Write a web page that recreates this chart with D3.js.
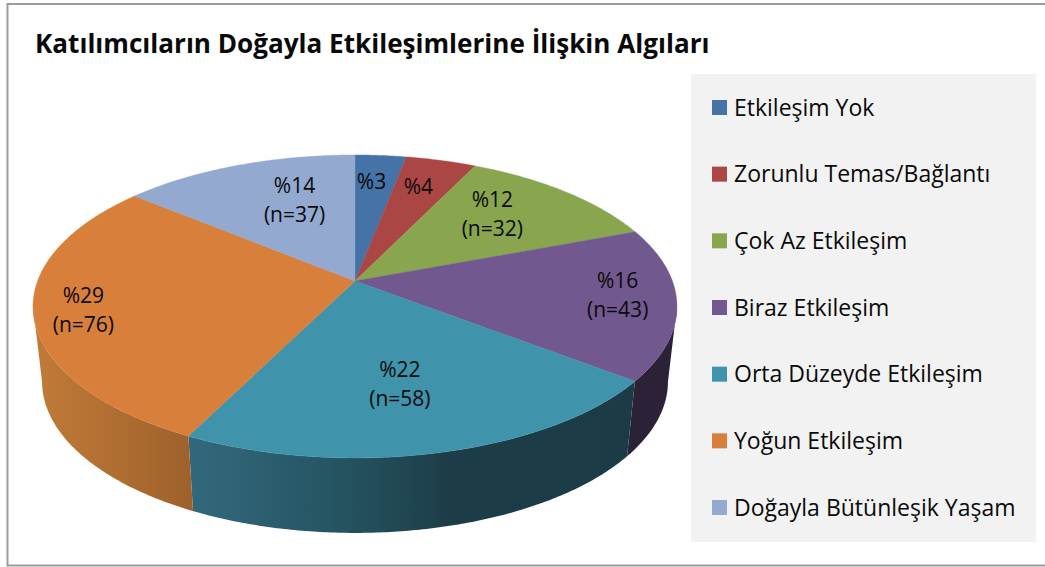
<!DOCTYPE html>
<html>
<head>
<meta charset="utf-8">
<script src="https://cdn.jsdelivr.net/npm/d3@7"></script>
<style>
  html, body { margin: 0; background: #fff; }
  svg { display: block; }
  text { font-family: "Open Sans", Lato, sans-serif; fill: #0a0a0a; }
  .title { font-size: 26.1px; font-weight: 700; }
  .legend-label { font-size: 23px; }
  .slice-label { font-size: 21px; text-anchor: middle; }
</style>
</head>
<body>
<svg id="chart" width="1045" height="567"></svg>
<script>
// Chart data
const categories = ['Etkileşim Yok', 'Zorunlu Temas/Bağlantı', 'Çok Az Etkileşim', 'Biraz Etkileşim',
  'Orta Düzeyde Etkileşim', 'Yoğun Etkileşim', 'Doğayla Bütünleşik Yaşam']
const counts = [8, 11, 32, 43, 58, 76, 37]
const percents = [3, 4, 12, 16, 22, 29, 14]
const showCount = [false, false, true, true, true, true, true]
const colors = ['#4573a7', '#aa4643', '#89a54e', '#71588f', '#3f94ac', '#d87f3b', '#93a9cf']

// Side wall shading, left to right in screen space
const wallStops = {
  3: ['#2c2238', '#2c2238'],
  4: ['#33697d', '#24525f', '#1c3c47', '#1b3b46'],
  5: ['#c17b38', '#9e612b']
}

// Best fit label placement: radius share and angle nudge in degrees
const labelRadius = [0.76, 0.75, 0.68, 0.82, 0.64, 0.85, 0.64]
const labelTurn = [-1, -1, -4, -2, 1.5, -1, 6]

const svg = d3.select('#chart')
const defs = svg.append('defs')

// Perspective of the tilted disc
const apex = { x: 355, y: 281 }
const spanX = 317.4
const spanY = 147.2
const depth = 0.168
const wallDrop = 75
const wallShrink = 0.972
const silhouette = Math.acos(-depth)

// Project a point on the disc (angle clockwise from top, r share of radius)
const project = (angle, r = 1) => {
  let u = r * Math.sin(angle)
  let v = r * Math.cos(angle)
  let w = 1 + depth * v
  return [apex.x + spanX * u / w, apex.y - spanY * v / w]
}

const lowerRim = (angle) => {
  let p = project(angle)
  return [apex.x + (p[0] - apex.x) * wallShrink, p[1] + wallDrop]
}

const arcSamples = (a0, a1) => {
  let n = Math.max(2, Math.ceil(Math.abs(a1 - a0) / 0.01))
  return d3.range(n + 1).map(i => a0 + (a1 - a0) * i / n)
}

const line = d3.line()
const arcs = d3.pie().sort(null)(counts)

// Outer frame, its right edge runs off the picture
svg.append('rect')
  .attr('x', 7.5)
  .attr('y', 4)
  .attr('width', 1060)
  .attr('height', 561.5)
  .attr('fill', '#fff')
  .attr('stroke', '#9c9c9c')
  .attr('stroke-width', 2)

svg.append('text')
  .attr('class', 'title')
  .attr('x', 35)
  .attr('y', 53)
  .text('Katılımcıların Doğayla Etkileşimlerine İlişkin Algıları')

// Side walls, only the front part of the disc shows them
arcs.forEach((d, i) => {
  let a0 = Math.max(d.startAngle, silhouette)
  let a1 = Math.min(d.endAngle, 2 * Math.PI - silhouette)
  if (a1 <= a0) return

  let angles = arcSamples(a0, a1)
  let top = angles.map(a => project(a))
  let bottom = angles.map(lowerRim).reverse()
  let pts = top.concat(bottom)

  let xs = d3.extent(pts, p => p[0])
  let grad = defs.append('linearGradient')
    .attr('id', 'wall-' + i)
    .attr('gradientUnits', 'userSpaceOnUse')
    .attr('x1', xs[0])
    .attr('x2', xs[1])
    .attr('y1', 0)
    .attr('y2', 0)
  let stops = i === 4 ? [0, 0.36, 0.6, 1] : [0, 1]
  stops.forEach((s, j) => {
    grad.append('stop')
      .attr('offset', s)
      .attr('stop-color', (wallStops[i] || [colors[i], colors[i]])[j])
  })

  svg.append('path')
    .attr('d', line(pts) + 'Z')
    .attr('fill', 'url(#wall-' + i + ')')
})

// Top surface
arcs.forEach((d, i) => {
  let rim = arcSamples(d.startAngle, d.endAngle).map(a => project(a))
  svg.append('path')
    .attr('d', line([[apex.x, apex.y]].concat(rim)) + 'Z')
    .attr('fill', colors[i])
    .attr('stroke', colors[i])
    .attr('stroke-width', 0.4)
})

// Slice labels
arcs.forEach((d, i) => {
  let mid = (d.startAngle + d.endAngle) / 2 + labelTurn[i] * Math.PI / 180
  let p = project(mid, labelRadius[i])
  svg.append('text')
    .attr('class', 'slice-label')
    .attr('x', p[0])
    .attr('y', p[1] + (showCount[i] ? -7 : 7))
    .text('%' + percents[i])
  if (showCount[i]) {
    svg.append('text')
      .attr('class', 'slice-label')
      .attr('x', p[0])
      .attr('y', p[1] + 22)
      .text('(n=' + counts[i] + ')')
  }
})

// Legend
svg.append('rect')
  .attr('x', 691)
  .attr('y', 74)
  .attr('width', 345)
  .attr('height', 468)
  .attr('fill', '#f2f2f2')

const legendY = d3.scalePoint()
  .domain(categories)
  .range([107.5, 507.5])

const legend = svg.selectAll('.legend-row')
  .data(categories)
  .join('g')
  .attr('class', 'legend-row')
  .attr('transform', d => 'translate(712,' + legendY(d) + ')')

legend.append('rect')
  .attr('y', -7.5)
  .attr('width', 15)
  .attr('height', 15)
  .attr('fill', (d, i) => colors[i])

legend.append('text')
  .attr('class', 'legend-label')
  .attr('x', 22)
  .attr('y', 8)
  .text(d => d)
</script>
</body>
</html>
